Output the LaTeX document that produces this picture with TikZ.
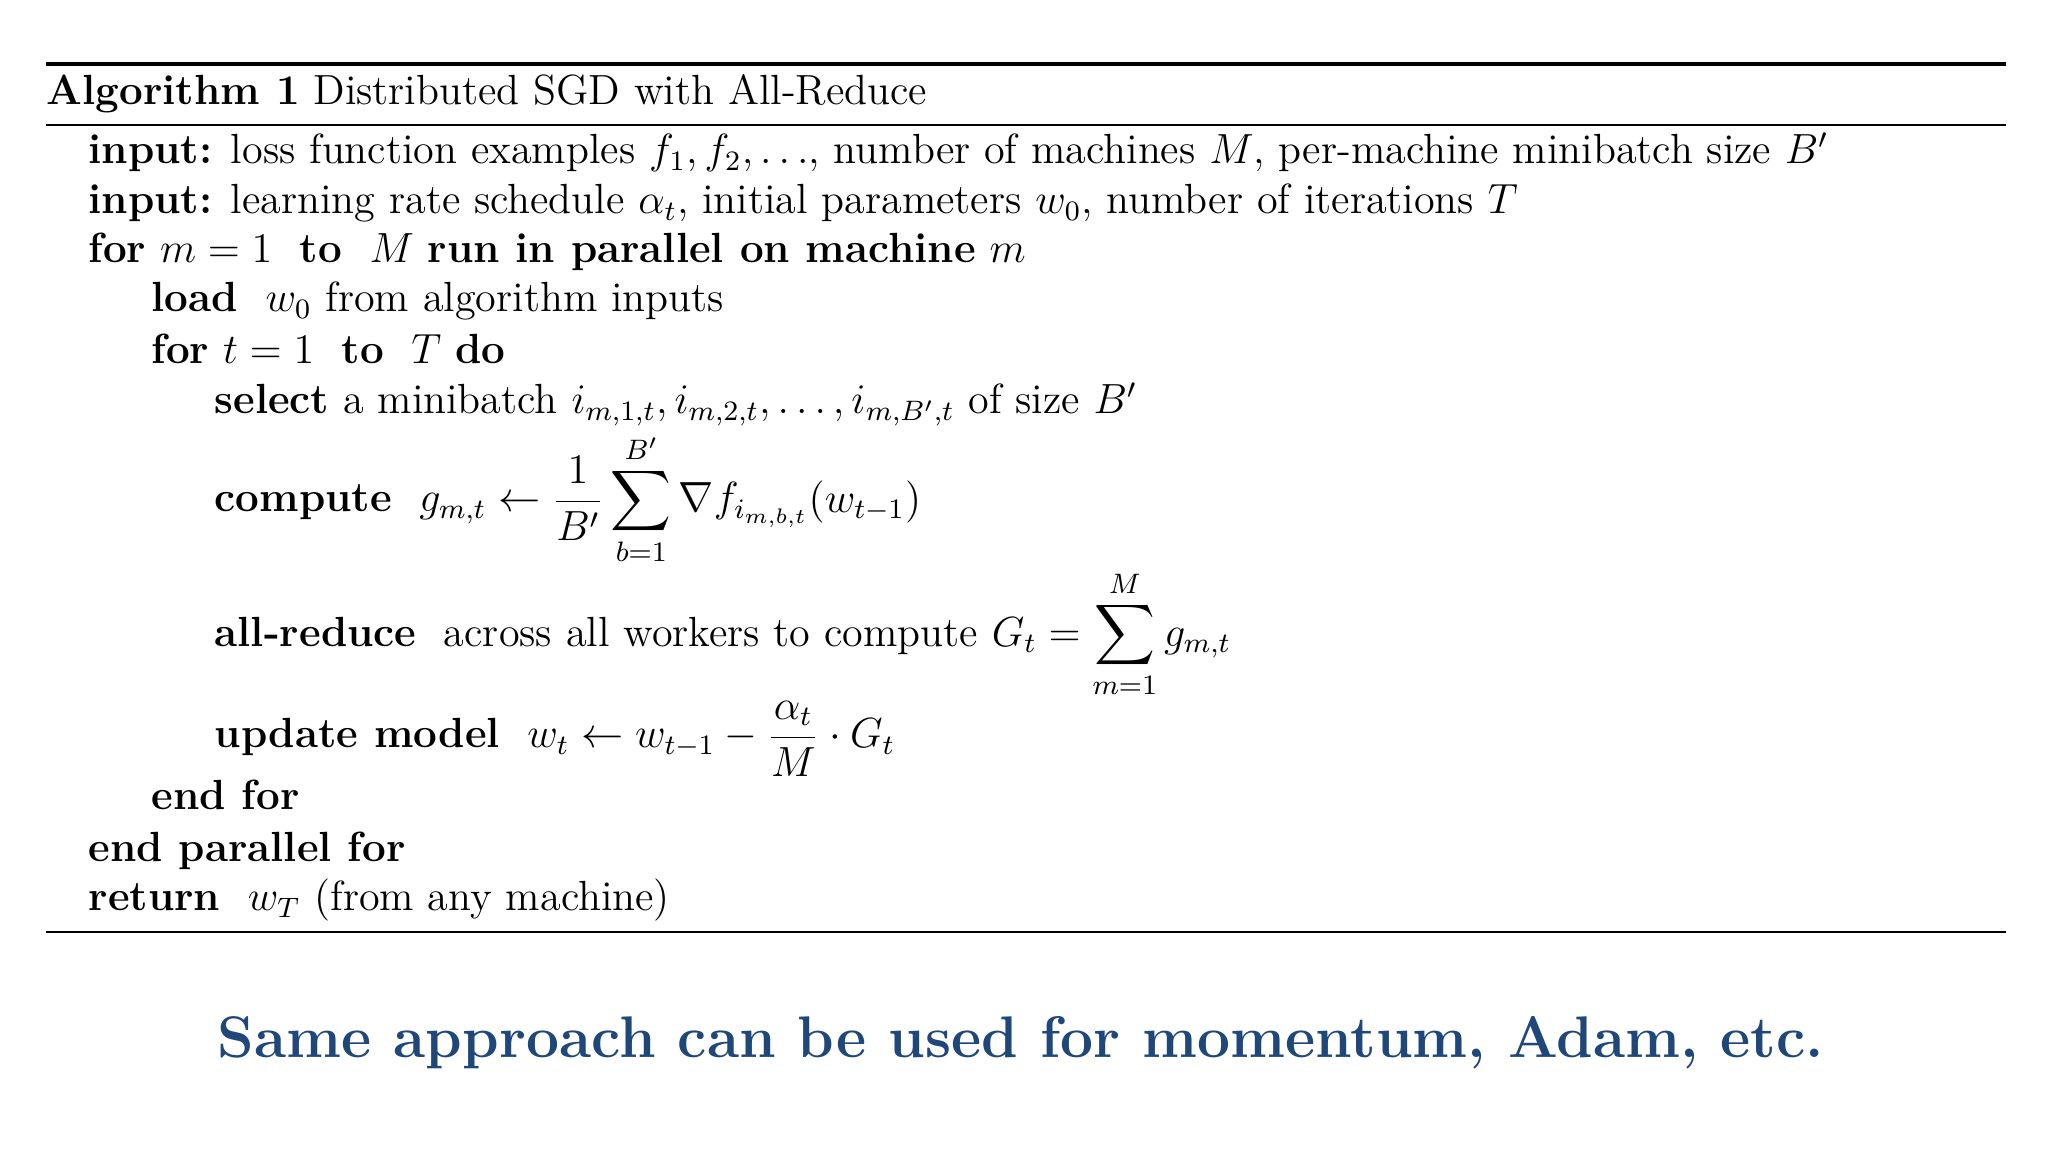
\documentclass[tikz,border=0pt]{standalone}
\usepackage{amsmath}
\definecolor{titleblue}{RGB}{31,71,122}
\begin{document}
\begin{tikzpicture}[x=1cm,y=1cm,
  ln/.style={anchor=base west,inner sep=0pt,font=\fontsize{12}{14}\selectfont}]
\useasboundingbox (0,0) rectangle (20.48,-11.52);
\coordinate (r1a) at (0.46,-0.64); \coordinate (r1b) at (20.06,-0.64);
\draw[line width=1.3pt] (r1a) -- (r1b);
\coordinate (r2a) at (0.46,-1.25); \coordinate (r2b) at (20.06,-1.25);
\draw[line width=0.7pt] (r2a) -- (r2b);
\coordinate (r3a) at (0.46,-9.32); \coordinate (r3b) at (20.06,-9.32);
\draw[line width=0.7pt] (r3a) -- (r3b);
\node[ln] (title) at (0.46,-1.05) {\textbf{Algorithm 1} Distributed SGD with All-Reduce};
\node[ln] (l1) at (0.88,-1.64) {\textbf{input:} loss function examples $f_1,f_2,\ldots$, number of machines $M$, per-machine minibatch size $B'$};
\node[ln] (l2) at (0.88,-2.14) {\textbf{input:} learning rate schedule $\alpha_t$, initial parameters $w_0$, number of iterations $T$};
\node[ln] (l3) at (0.88,-2.63) {\textbf{for} $m=1$ \ \textbf{to} \ $M$ \textbf{run in parallel on machine} $m$};
\node[ln] (l4) at (1.51,-3.12) {\textbf{load} \ $w_0$ from algorithm inputs};
\node[ln] (l5) at (1.51,-3.64) {\textbf{for} $t=1$ \ \textbf{to} \ $T$ \textbf{do}};
\node[ln] (l6) at (2.14,-4.14) {\textbf{select} a minibatch $i_{m,1,t},i_{m,2,t},\ldots,i_{m,B',t}$ of size $B'$};
\node[ln] (l7) at (2.14,-5.12) {\textbf{compute} \ $\displaystyle g_{m,t}\leftarrow\frac{1}{B'}\sum_{b=1}^{B'}\nabla f_{i_{m,b,t}}(w_{t-1})$};
\node[ln] (l8) at (2.14,-6.46) {\textbf{all-reduce} \ across all workers to compute $\displaystyle G_t=\sum_{m=1}^{M} g_{m,t}$};
\node[ln] (l9) at (2.14,-7.48) {\textbf{update model} \ $\displaystyle w_t\leftarrow w_{t-1}-\frac{\alpha_t}{M}\cdot G_t$};
\node[ln] (l10) at (1.51,-8.10) {\textbf{end for}};
\node[ln] (l11) at (0.88,-8.61) {\textbf{end parallel for}};
\node[ln] (l12) at (0.88,-9.11) {\textbf{return} \ $w_T$ (from any machine)};
\node[anchor=base,inner sep=0pt,text=titleblue,font=\fontsize{16.7}{20}\bfseries\selectfont] (msg) at (10.21,-10.57) {Same approach can be used for momentum, Adam, etc.};
\end{tikzpicture}
\end{document}
